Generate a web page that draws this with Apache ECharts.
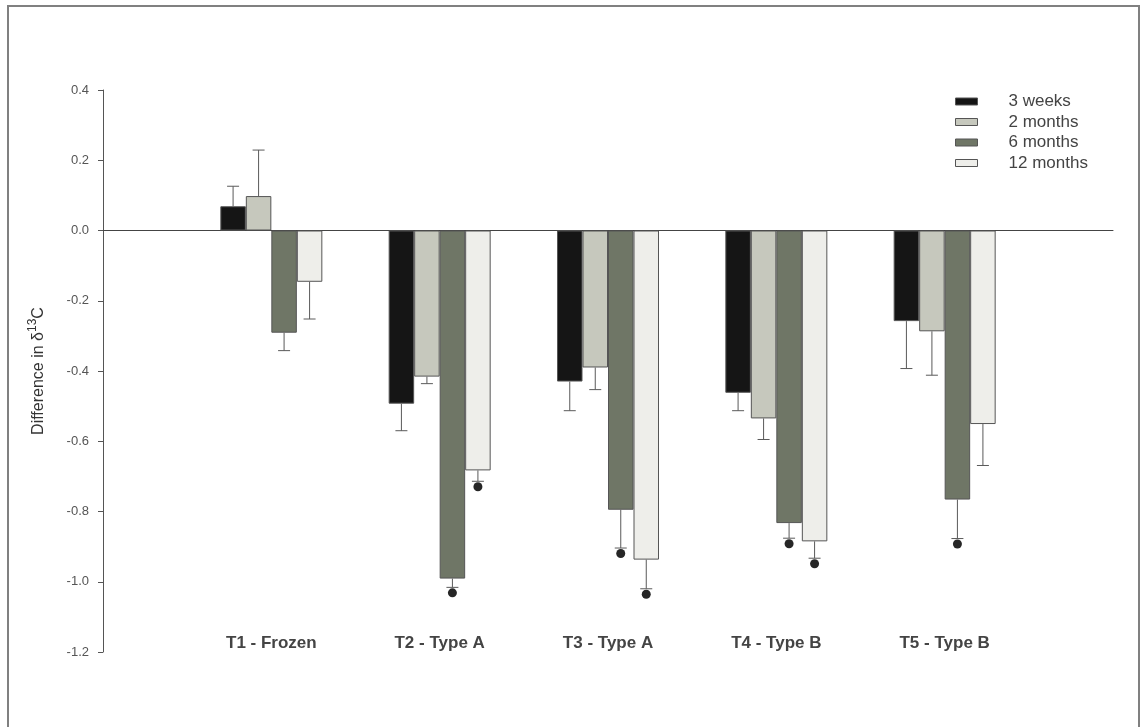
<!DOCTYPE html>
<html>
<head>
<meta charset="utf-8">
<script src="https://cdn.jsdelivr.net/npm/echarts@6/dist/echarts.min.js"></script>
<style>
html,body{margin:0;padding:0;background:#fff;}
#chart{width:1143px;height:727px;}
</style>
</head>
<body>
<div id="chart"></div>
<script>
// ---- data ----
const categories = ['T1 - Frozen', 'T2 - Type A', 'T3 - Type A', 'T4 - Type B', 'T5 - Type B'];
const seriesNames = ['3 weeks', '2 months', '6 months', '12 months'];
const weeks3    = [0.069, -0.493, -0.430, -0.462, -0.258];
const months2   = [0.098, -0.416, -0.390, -0.535, -0.287];
const months6   = [-0.291, -0.991, -0.795, -0.833, -0.766];
const months12  = [-0.146, -0.683, -0.937, -0.885, -0.551];
const err3w   = [0.057, 0.077, 0.083, 0.051, 0.135];
const err2m   = [0.131, 0.020, 0.063, 0.060, 0.125];
const err6m   = [0.051, 0.025, 0.109, 0.043, 0.111];
const err12m  = [0.106, 0.031, 0.083, 0.048, 0.118];
// significance markers (1 = dot shown below error bar)
const sig3w  = [0, 0, 0, 0, 0];
const sig2m  = [0, 0, 0, 0, 0];
const sig6m  = [0, 1, 1, 1, 1];
const sig12m = [0, 1, 1, 1, 0];
const yTicks = [-1.2, -1.0, -0.8, -0.6, -0.4, -0.2, 0.0, 0.2, 0.4];

const values = [weeks3, months2, months6, months12];
const errs = [err3w, err2m, err6m, err12m];
const sigs = [sig3w, sig2m, sig6m, sig12m];
const colors = ['#151515', '#c6c8bd', '#6f7666', '#eeeeea'];

const BAR_W = 25.5;
const FONT = 'Liberation Sans, Arial, sans-serif';
const axisCats = [''].concat(categories, ['']);

const chart = echarts.init(document.getElementById('chart'));

const barSeries = values.map((vals, s) => ({
  name: seriesNames[s],
  type: 'bar',
  xAxisIndex: 0,
  barWidth: BAR_W,
  barGap: '0%',
  data: [null].concat(vals, [null]),
  itemStyle: { color: colors[s], borderColor: '#555', borderWidth: 1 },
  emphasis: { disabled: true },
  z: 2
}));

const errData = [];
values.forEach((vals, s) => {
  vals.forEach((v, i) => {
    errData.push([i + 1, v, errs[s][i], s, sigs[s][i]]);
  });
});

const errSeries = {
  type: 'custom',
  xAxisIndex: 0,
  data: errData,
  z: 3,
  renderItem: function (params, api) {
    const ci = api.value(0), v = api.value(1), e = api.value(2), s = api.value(3), sig = api.value(4);
    const dir = v >= 0 ? 1 : -1;
    const base = api.coord([ci, v]);
    const end = api.coord([ci, v + dir * e]);
    const x = base[0] + (s - 1.5) * BAR_W;
    const children = [
      { type: 'line', shape: { x1: x, y1: base[1], x2: x, y2: end[1] }, style: { stroke: '#5a5a5a', lineWidth: 1 } },
      { type: 'line', shape: { x1: x - 6, y1: end[1], x2: x + 6, y2: end[1] }, style: { stroke: '#5a5a5a', lineWidth: 1 } }
    ];
    if (sig) {
      children.push({ type: 'circle', shape: { cx: x, cy: end[1] + 5.5, r: 4.5 }, style: { fill: '#262626' } });
    }
    return { type: 'group', children: children };
  }
};

chart.setOption({
  animation: false,
  backgroundColor: '#fff',
  graphic: [{
    type: 'rect',
    shape: { x: 8, y: 6, width: 1131, height: 740 },
    style: { fill: 'none', stroke: '#808080', lineWidth: 2 },
    silent: true
  }],
  grid: { left: 103, right: 30, top: 90, bottom: 75 },
  legend: {
    data: seriesNames,
    orient: 'vertical',
    left: 955,
    top: 93,
    padding: 0,
    itemWidth: 22,
    itemHeight: 7,
    itemGap: 3.5,
    icon: 'rect',
    textStyle: { fontFamily: FONT, fontSize: 17, lineHeight: 17, color: '#444', padding: [0, 0, 0, 26] },
    itemStyle: { borderColor: '#555', borderWidth: 1 }
  },
  xAxis: [{
    type: 'category',
    data: axisCats,
    boundaryGap: false,
    axisLine: { show: true, onZero: true, lineStyle: { color: '#444', width: 1 } },
    axisTick: { show: false },
    axisLabel: { show: false },
    splitLine: { show: false }
  }, {
    type: 'category',
    data: axisCats,
    boundaryGap: false,
    position: 'bottom',
    axisLine: { show: false, onZero: false },
    axisTick: { show: false },
    axisLabel: {
      show: true, interval: 0, margin: -17,
      fontFamily: FONT, fontSize: 17, fontWeight: 'bold', color: '#444'
    },
    splitLine: { show: false }
  }],
  yAxis: {
    type: 'value',
    min: yTicks[0],
    max: yTicks[yTicks.length - 1],
    interval: 0.2,
    splitLine: { show: false },
    axisLine: { show: true, lineStyle: { color: '#555' } },
    axisTick: { show: true, length: 5, lineStyle: { color: '#555' } },
    axisLabel: {
      margin: 14,
      fontFamily: FONT, fontSize: 13, color: '#555',
      formatter: v => v.toFixed(1)
    },
    name: 'Difference in δ{sup|13}C',
    nameLocation: 'middle',
    nameRotate: 90,
    nameGap: 52,
    nameTextStyle: {
      fontFamily: FONT, fontSize: 16, color: '#333',
      rich: { sup: { fontSize: 12, color: '#333', padding: [0, 0, 12, 0], fontFamily: FONT } }
    }
  },
  series: barSeries.concat([errSeries])
});
</script>
</body>
</html>
